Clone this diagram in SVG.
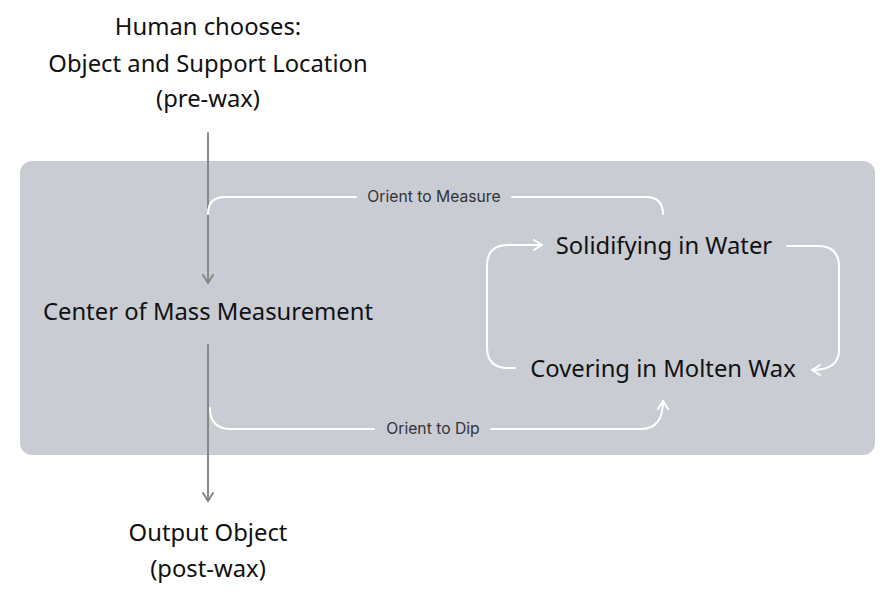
<svg xmlns="http://www.w3.org/2000/svg" width="895" height="597" viewBox="0 0 895 597">
<defs>
<style>
.main{font-family:"Noto Sans","Open Sans",sans-serif;font-size:23.8px;fill:#111;text-anchor:middle}
.lbl{font-family:Inter,"Liberation Sans",sans-serif;font-size:15.7px;fill:#333;text-anchor:middle}
.w{fill:none;stroke:#fff;stroke-width:2;stroke-linecap:round;stroke-linejoin:round}
.g{fill:none;stroke:#888;stroke-width:2;stroke-linecap:round;stroke-linejoin:round}
</style>
<marker id="aw" viewBox="0 0 12 12" refX="11" refY="6" markerWidth="12" markerHeight="12" markerUnits="userSpaceOnUse" orient="auto">
<path d="M3,1 L11,6 L3,11" fill="none" stroke="#fff" stroke-width="2" stroke-linecap="round" stroke-linejoin="round"/>
</marker>
<marker id="ag" viewBox="0 0 12 12" refX="11" refY="6" markerWidth="12" markerHeight="12" markerUnits="userSpaceOnUse" orient="auto">
<path d="M3,1 L11,6 L3,11" fill="none" stroke="#888" stroke-width="2" stroke-linecap="round" stroke-linejoin="round"/>
</marker>
</defs>
<rect x="20" y="161" width="855" height="294" rx="12" fill="#c9ccd3"/>
<g id="connectors">
<path class="g" d="M208,133 V283" marker-end="url(#ag)"/>
<path class="g" d="M208,345 V501" marker-end="url(#ag)"/>
<path class="w" d="M663,214 V214 Q663,197 646,197 H512 M356,197 H225 Q208,197 208,214"/>
<text class="lbl" x="434" y="202">Orient to Measure</text>
<path class="w" d="M210,408 Q210,429 231,429 H374 M491,429 H641 Q663,429 663,401" marker-end="url(#aw)"/>
<text class="lbl" x="433" y="434">Orient to Dip</text>
<path class="w" d="M787,246 H818 Q839,246 839,267 V350 Q839,370 812,370" marker-end="url(#aw)"/>
<path class="w" d="M515,368 H508 Q487,368 487,347 V266 Q487,245 508,245 H542" marker-end="url(#aw)"/>
</g>
<g id="human">
<text class="main" x="208" y="35">Human chooses:</text>
<text class="main" x="208" y="72">Object and Support Location</text>
<text class="main" x="208" y="107">(pre-wax)</text>
</g>
<g id="com"><text class="main" x="208" y="320">Center of Mass Measurement</text></g>
<g id="solid"><text class="main" x="664" y="254">Solidifying in Water</text></g>
<g id="cover"><text class="main" x="663" y="377">Covering in Molten Wax</text></g>
<g id="output">
<text class="main" x="208" y="541">Output Object</text>
<text class="main" x="208" y="577">(post-wax)</text>
</g>
</svg>
